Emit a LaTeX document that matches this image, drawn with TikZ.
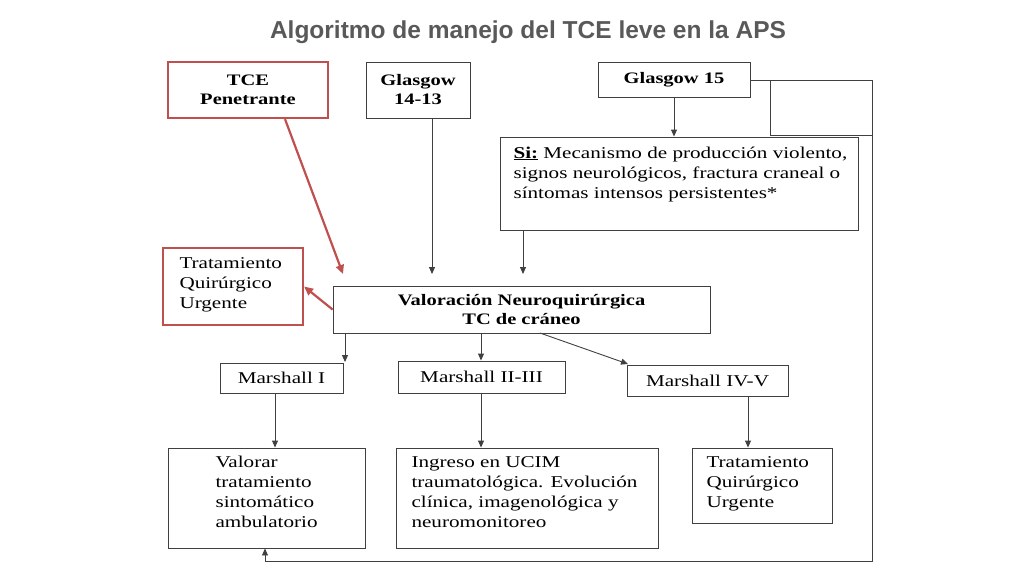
\documentclass[tikz,border=0pt]{standalone}
\usepackage{fontspec}
\setmainfont{Liberation Serif}[FakeStretch=1.28]
\newfontfamily\titlefont{Liberation Sans}
\usetikzlibrary{arrows.meta}
\definecolor{redb}{HTML}{C0504D}
\definecolor{ttl}{HTML}{595959}
\begin{document}
\begin{tikzpicture}[x=1pt,y=-1pt,
  bx/.style={draw=black!75,line width=0.9pt,inner sep=0pt},
  rb/.style={draw=redb,line width=2.2pt,inner sep=0pt},
  ar/.style={-{Triangle[length=7pt,width=6pt]},line width=0.9pt,black!75},
  rar/.style={-{Triangle[length=9pt,width=8pt]},line width=2.2pt,redb},
  txt/.style={font=\fontsize{16.5}{20}\selectfont,align=left},
  btxt/.style={font=\fontsize{16}{19}\selectfont\bfseries,align=center}]
\useasboundingbox (0,0) rectangle (1024,576);
\node[font=\titlefont\fontsize{24.5}{28}\selectfont\bfseries,text=ttl] (title) at (528,32) {Algoritmo de manejo del TCE leve en la APS};
% boxes
\node[rb,minimum width=160pt,minimum height=56pt,btxt] (tce) at (248,90) {TCE\\Penetrante};
\node[bx,minimum width=104pt,minimum height=56pt,btxt] (g14) at (418,90) {Glasgow\\14-13};
\node[bx,minimum width=152pt,minimum height=35pt,btxt] (g15) at (674,79.5) {Glasgow 15};
\node[bx,minimum width=358pt,minimum height=93pt] (si) at (679,183.5) {};
\node[txt,anchor=north west] (sit) at (510,143) {\textbf{\underline{Si:}} Mecanismo de producción violento,\\signos neurológicos, fractura craneal o\\síntomas intensos persistentes*};
\node[rb,minimum width=140pt,minimum height=77pt] (tq1) at (233,286.5) {};
\node[txt,anchor=north west] at (176,254) {Tratamiento\\Quirúrgico\\Urgente};
\node[bx,minimum width=377pt,minimum height=47pt,btxt] (val) at (521.5,309.5) {Valoración Neuroquirúrgica\\TC de cráneo};
\node[bx,minimum width=123pt,minimum height=30pt,txt] (m1) at (281.5,378) {Marshall I};
\node[bx,minimum width=167pt,minimum height=32pt,txt] (m2) at (481.5,377) {Marshall II-III};
\node[bx,minimum width=161pt,minimum height=31pt,txt] (m3) at (707.5,380.5) {Marshall IV-V};
\node[bx,minimum width=197pt,minimum height=100pt] (vt) at (266.5,498) {};
\node[txt,anchor=north west] at (212,453) {Valorar\\tratamiento\\sintomático\\ambulatorio};
\node[bx,minimum width=262pt,minimum height=100pt] (ing) at (527,498) {};
\node[txt,anchor=north west] at (408,453) {Ingreso en UCIM\\traumatológica. Evolución\\clínica, imagenológica y\\neuromonitoreo};
\node[bx,minimum width=140pt,minimum height=75pt] (tq2) at (762,485.5) {};
\node[txt,anchor=north west] at (703,453) {Tratamiento\\Quirúrgico\\Urgente};
% connectors
\coordinate (c1) at (872,80);
\coordinate (c2) at (872,561);
\coordinate (c3) at (265,561);
\draw[line width=0.9pt,black!75] (g15.east |- c1) -- (c1) -- (c2) -- (c3);
\draw[ar] (c3) -- (vt.south -| c3);
\draw[line width=0.9pt,black!75] (770,80) -- (770,135) -- (872,135);
\draw[rar] (tce.south -| 285,0) -- (343,274);
\draw[ar] (g14.south -| 432,0) -- (432,274);
\draw[ar] (si.south -| 523,0) -- (523,274);
\draw[ar] (g15.south) -- (si.north -| g15.south);
\draw[rar] (val.west) -- (tq1.east);
\draw[ar] (val.south -| 345,0) -- (345,362);
\draw[ar] (val.south -| 481,0) -- (m2.north -| 481,0);
\draw[ar] (540,333) -- (628,364);
\draw[ar] (m1.south -| 275,0) -- (vt.north -| 275,0);
\draw[ar] (m2.south -| 481,0) -- (ing.north -| 481,0);
\draw[ar] (m3.south -| 748,0) -- (tq2.north -| 748,0);
\end{tikzpicture}
\end{document}
